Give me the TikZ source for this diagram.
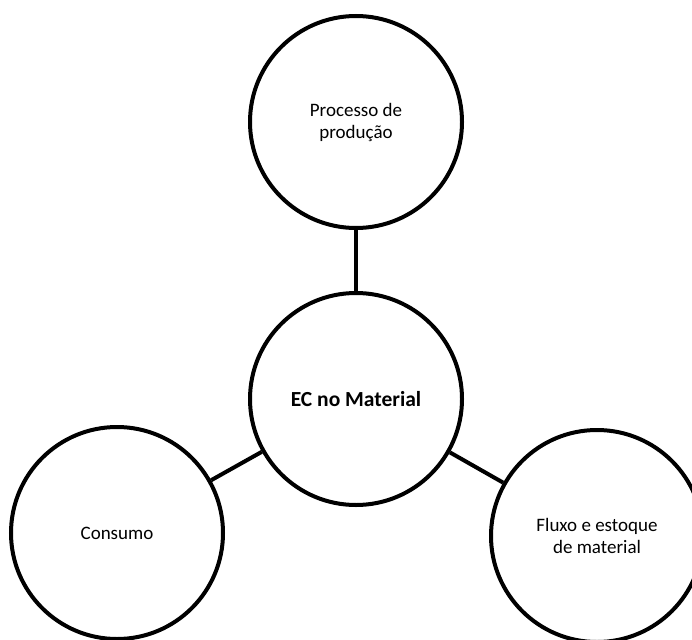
\documentclass[tikz,border=0pt]{standalone}
\usepackage{fontspec}
\setmainfont{Carlito}

\begin{document}
\begin{tikzpicture}[x=1pt,y=-1pt,
  topic/.style={circle,draw,line width=4pt,minimum size=212pt,inner sep=0pt,
    align=center,font=\fontsize{19}{22}\selectfont},
  link/.style={line width=4pt}]
  \useasboundingbox (0,0) rectangle (692,639);
  \clip (0,0) rectangle (692,639);
  \node[topic] (prod) at (356,122) {Processo de\\produção};
  \node[topic,font=\fontsize{21.5}{24}\selectfont\bfseries] (ec) at (356,399) {EC no Material};
  \node[topic] (cons) at (117,533) {Consumo};
  \node[topic] (flux) at (597,536) {Fluxo e estoque\\de material};
  \draw[link] (ec) -- (prod);
  \draw[link] (ec) -- (cons);
  \draw[link] (ec) -- (flux);
\end{tikzpicture}
\end{document}
